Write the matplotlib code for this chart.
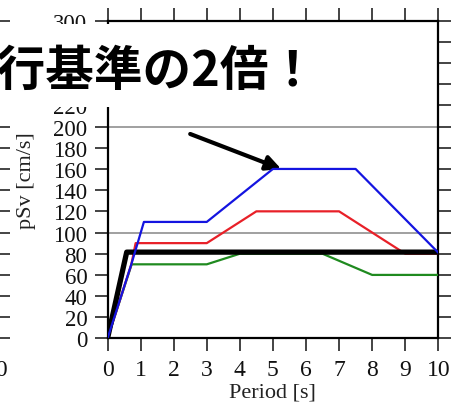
import matplotlib
matplotlib.use("Agg")
import matplotlib.pyplot as plt
from matplotlib.patches import Rectangle

plt.rcParams['font.family'] = ['Liberation Serif', 'DejaVu Serif']

# spectra (period [s], pSv [cm/s])
black_T = [0, 0.58, 10]
black_v = [0, 81.5, 81.5]
green_T = [0, 0.73, 3, 4, 6.5, 8, 10]
green_v = [0, 70, 70, 80, 80, 60, 60]
red_T = [0, 0.72, 0.85, 3, 4.5, 7, 9, 10]
red_v = [0, 70, 90, 90, 120, 120, 80, 80]
blue_T = [0, 0.72, 1.1, 3, 5, 7.5, 10]
blue_v = [0, 70, 110, 110, 160, 160, 81]

xticks = list(range(0, 11))
yticks = list(range(0, 301, 20))
grid_y = [100, 200]
arrow_tail = (2.5, 193)
arrow_tip = (5.25, 160)
headline = "現行基準の2倍！"

fig = plt.figure(figsize=(4.55, 4.06), dpi=100)

# neighbouring panel, mostly outside the picture
ax2 = fig.add_axes([-0.7336, 0.1638, 0.727, 0.783])
ax2.patch.set_visible(False)
ax2.set_xlim(0, 10)
ax2.set_ylim(0, 300)
ax2.set_xticks([10])
ax2.set_yticks(yticks)
ax2.tick_params(direction='out', length=9.5, width=1.1, colors='#111111',
                labelsize=17, pad=5, left=False, labelleft=False, right=True)
for s in ax2.spines.values():
    s.set_visible(False)

ax = fig.add_axes([0.2363, 0.1638, 0.727, 0.783])

for y in grid_y:
    ax.axhline(y, color='#999999', lw=1.3, zorder=1)

ax.plot(green_T, green_v, color='#1f8a1f', lw=1.6, zorder=3)
ax.plot(red_T, red_v, color='#e82028', lw=1.6, zorder=3)
ax.plot(black_T, black_v, color='black', lw=3.8, zorder=4, solid_capstyle='butt')
ax.plot(blue_T, blue_v, color='#1414e0', lw=1.6, zorder=5)

ax.annotate('', xy=arrow_tip, xytext=arrow_tail,
            arrowprops=dict(arrowstyle='-|>', lw=3, color='black',
                            mutation_scale=22, shrinkA=0, shrinkB=0))

ax.set_xlim(0, 10)
ax.set_ylim(0, 300)
ax.set_xticks(xticks)
ax.set_yticks(yticks)
ax.tick_params(direction='out', length=9.5, width=1.1, colors='#111111',
               labelsize=17, pad=5, top=True, right=True)
ax.tick_params(axis='y', labelsize=16.5, pad=5)
for s in ax.spines.values():
    s.set_linewidth(1.6)
ax.set_xlabel('Period [s]', fontsize=16, color='#222222', labelpad=2)
ax.set_ylabel('pSv [cm/s]', fontsize=16, color='#222222', labelpad=12)

# white caption box
fig.add_artist(Rectangle((0, 0.734), 0.958, 0.204, transform=fig.transFigure,
                         facecolor='white', edgecolor='none', zorder=5))
fig.text(0.697, 0.826, headline, ha='right', va='center', fontsize=35,
         fontweight='bold', family=['Noto Sans CJK JP', 'DejaVu Sans'],
         color='black', zorder=6)

fig.savefig('out.png', dpi=100)
